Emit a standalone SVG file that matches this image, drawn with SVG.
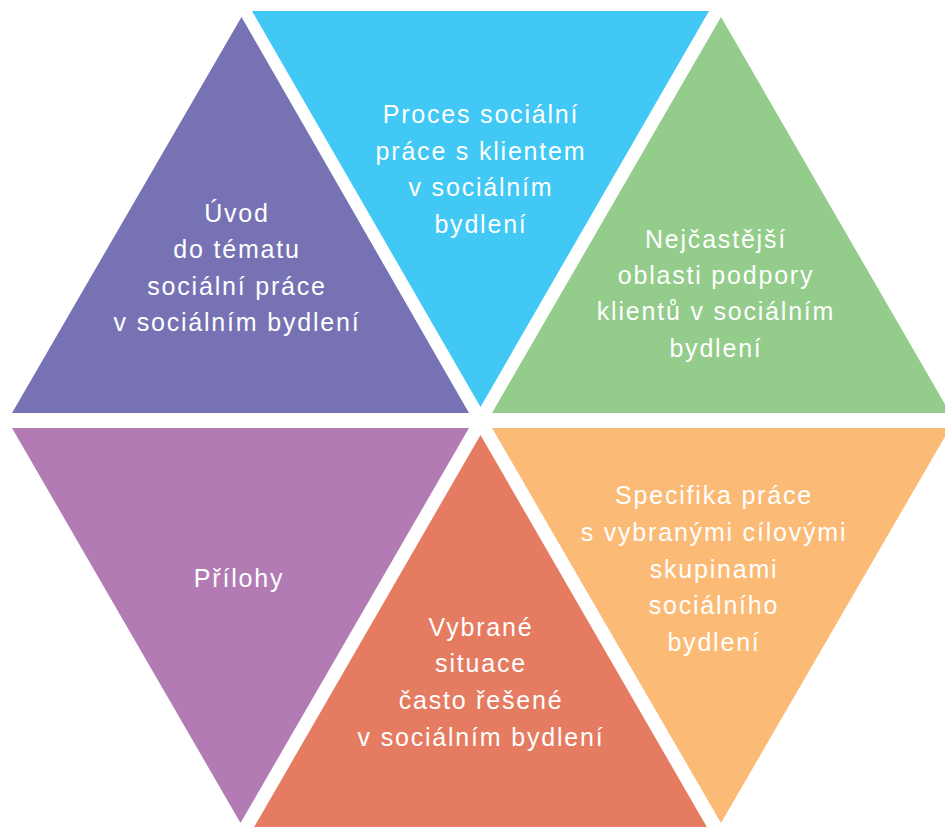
<svg xmlns="http://www.w3.org/2000/svg" width="945" height="827" viewBox="0 0 945 827">
<style>
.lbl{font-family:"Liberation Sans","Noto Sans",Arial,sans-serif;font-size:25px;fill:#ffffff;text-anchor:middle;letter-spacing:1.8px}
</style>
<rect width="945" height="827" fill="#ffffff"/>
<g id="connectors"></g>
<g id="uvod">
<polygon points="241.5,17 12,413 469,413" fill="#7672B4"/>
<text class="lbl" x="237" y="222">Úvod</text>
<text class="lbl" x="237" y="258">do tématu</text>
<text class="lbl" x="237" y="295">sociální práce</text>
<text class="lbl" x="237" y="331">v sociálním bydlení</text>
</g>
<g id="proces">
<polygon points="252,11 709,11 480.5,407" fill="#41C8F4"/>
<text class="lbl" x="481" y="123">Proces sociální</text>
<text class="lbl" x="481" y="160">práce s klientem</text>
<text class="lbl" x="481" y="196">v sociálním</text>
<text class="lbl" x="481" y="233">bydlení</text>
</g>
<g id="oblasti">
<polygon points="721,17 492,413 950,413" fill="#93CC8B"/>
<text class="lbl" x="716" y="248">Nejčastější</text>
<text class="lbl" x="716" y="284">oblasti podpory</text>
<text class="lbl" x="716" y="320">klientů v sociálním</text>
<text class="lbl" x="716" y="357">bydlení</text>
</g>
<g id="prilohy">
<polygon points="12,428 469,428 240.5,823" fill="#B27BB4"/>
<text class="lbl" x="239" y="587">Přílohy</text>
</g>
<g id="situace">
<polygon points="480.5,435 253,829 708,829" fill="#E57C62"/>
<text class="lbl" x="481" y="636">Vybrané</text>
<text class="lbl" x="481" y="672">situace</text>
<text class="lbl" x="481" y="709">často řešené</text>
<text class="lbl" x="481" y="746">v sociálním bydlení</text>
</g>
<g id="specifika">
<polygon points="492,428 950,428 721,823" fill="#FBBB76"/>
<text class="lbl" x="714" y="504">Specifika práce</text>
<text class="lbl" x="714" y="541">s vybranými cílovými</text>
<text class="lbl" x="714" y="578">skupinami</text>
<text class="lbl" x="714" y="614">sociálního</text>
<text class="lbl" x="714" y="651">bydlení</text>
</g>
</svg>
